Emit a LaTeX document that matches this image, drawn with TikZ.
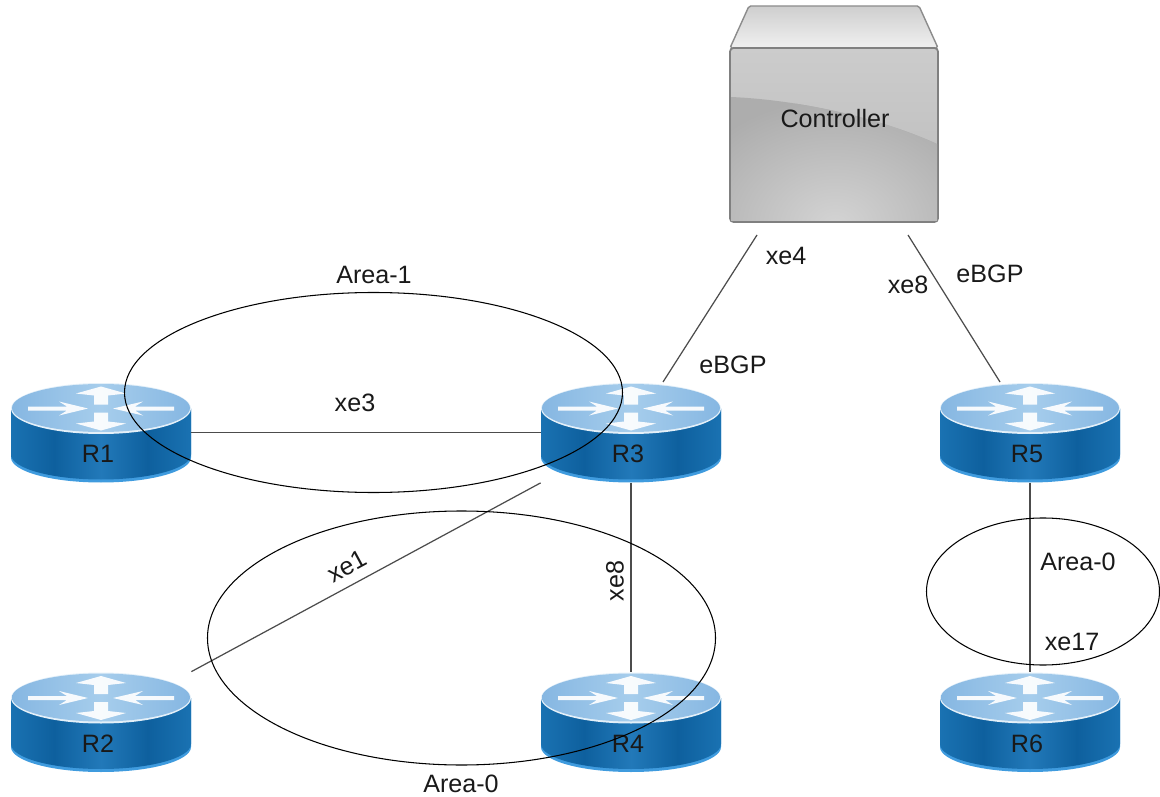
\documentclass[tikz,border=0pt]{standalone}
\usepackage{fontspec}
\setmainfont{Liberation Sans}
\usetikzlibrary{calc,positioning}
\definecolor{routerdark}{HTML}{0E609E}
\definecolor{routermid}{HTML}{2279B9}
\definecolor{routerside}{HTML}{1A72B2}
\definecolor{routerlip}{HTML}{3F9BDE}
\definecolor{routertopa}{HTML}{86B7E2}
\definecolor{routertopb}{HTML}{A6CDEC}
\pgfdeclarehorizontalshading{routerbody}{100bp}{color(0bp)=(routerside); color(25bp)=(routerside); color(37bp)=(routerdark); color(50bp)=(routermid); color(63bp)=(routerdark); color(75bp)=(routerside); color(100bp)=(routerside)}
\tikzset{
  label text/.style={font=\fontsize{14.3}{16}\selectfont,text=black!90,inner sep=0pt},
  link/.style={line width=0.7pt,draw=black!70},
  area/.style={line width=0.6pt,draw=black},
  routerbox/.style={rectangle,minimum width=180*0.02cm,minimum height=100*0.02cm,inner sep=0pt},
  router/.pic={
    \fill[routerlip] (-90,-24) -- (-90,25) arc[start angle=180,end angle=0,x radius=90,y radius=25] -- (90,-24) -- cycle;
    \shade[shading=routerbody] (-90,-24) -- (-90,22) arc[start angle=180,end angle=0,x radius=90,y radius=25] -- (90,-24) -- cycle;
    \fill[white!70!routertopb] (0,-24) ellipse[x radius=90,y radius=25.5];
    \shade[left color=routertopa,right color=routertopa,middle color=routertopb] (0,-24.5) ellipse[x radius=89,y radius=24];
    \fill[white,opacity=0.92] (0,-46) -- (25,-39) -- (7,-37) -- (7,-28) -- (-7,-28) -- (-7,-37) -- (-25,-39) -- cycle;
    \fill[white,opacity=0.92] (0,-2) -- (25,-9) -- (7,-11) -- (7,-20) -- (-7,-20) -- (-7,-11) -- (-25,-9) -- cycle;
    \fill[white,opacity=0.92] (-13,-24) -- (-42,-31) -- (-34,-26) -- (-73,-26) -- (-73,-22) -- (-34,-22) -- (-42,-17) -- cycle;
    \fill[white,opacity=0.92] (12,-24) -- (42,-31) -- (34,-26) -- (73,-26) -- (73,-22) -- (34,-22) -- (42,-17) -- cycle;
    \node[routerbox] (-box) at (0,0) {};
    \node[label text] (-name) at (-3,21.5) {#1};
  }
}
\begin{document}
\begin{tikzpicture}[x=0.02cm,y=-0.02cm]
\useasboundingbox (0,0) rectangle (1160,797);
% controller box
\shade[top color=black!19,bottom color=black!6,draw=black!45,line width=0.8pt,rounded corners=1pt] (749,6) -- (919,6) -- (938,48) -- (730,48) -- cycle;
\shade[top color=black!20,bottom color=black!27,draw=black!50,line width=1pt,rounded corners=2pt] (730,48) rectangle (938,222);
\begin{scope}
\clip (731,97) .. controls (800,100) and (880,118) .. (937,144) -- (937,221) -- (731,221) -- cycle;
\fill[black!32] (731,97) rectangle (937,221);
\shade[inner color=black!17,outer color=black!32] (835,225) ellipse[x radius=160,y radius=125];
\end{scope}
\node[label text] (controller) at (835,119) {Controller};
% routers
\pic (R1) at (101,432.5) {router=R1};
\pic (R2) at (101,722) {router=R2};
\pic (R3) at (631,432.5) {router=R3};
\pic (R4) at (631,722) {router=R4};
\pic (R5) at (1030,432.5) {router=R5};
\pic (R6) at (1030,722) {router=R6};
% links
\coordinate (ctrl left) at (757,235);
\coordinate (ctrl right) at (908,235);
\coordinate (R3 top) at (663,382);
\coordinate (R5 top) at (1000,382);
\draw[link] (R1-box) -- (R3-box);
\draw[link] (R2-box.north east) -- (R3-box.south west);
\draw[link] (R3-box) -- (R4-box);
\draw[link] (R5-box) -- (R6-box);
\draw[link] (ctrl left) -- (R3 top);
\draw[link] (ctrl right) -- (R5 top);
% areas
\draw[area] (373.5,392.5) ellipse[x radius=249,y radius=100];
\draw[area] (461.5,638) ellipse[x radius=254,y radius=127];
\draw[area] (1043,591.5) ellipse[x radius=116.5,y radius=73.5];
% labels
\node[label text] (area one) at (374,275) {Area-1};
\node[label text] (xe three) at (355,403) {xe3};
\node[label text] (xe four) at (786,256) {xe4};
\node[label text] (bgp left) at (733,365) {eBGP};
\node[label text] (xe eight right) at (908,285) {xe8};
\node[label text] (bgp right) at (990,274) {eBGP};
\node[label text,rotate=28.5] (xe one) at (347,566) {xe1};
\node[label text,rotate=90] (xe eight) at (615,581) {xe8};
\node[label text] (area zero right) at (1078,562) {Area-0};
\node[label text] (xe seventeen) at (1072,642) {xe17};
\node[label text] (area zero) at (461,784) {Area-0};
\end{tikzpicture}
\end{document}
